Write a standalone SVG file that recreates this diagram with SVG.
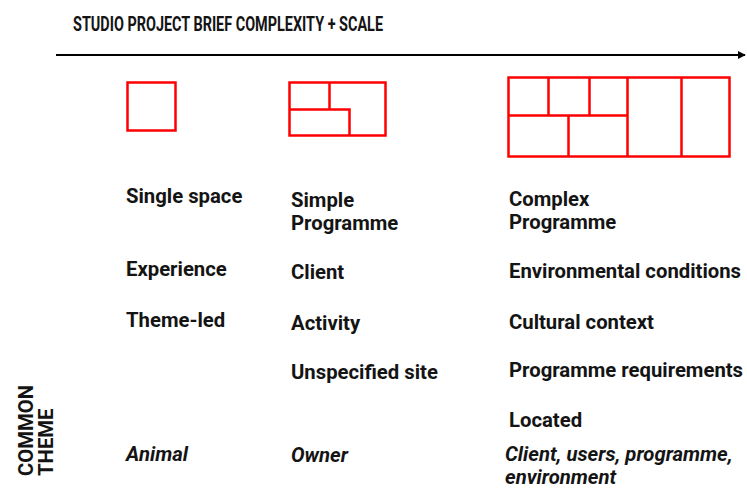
<svg xmlns="http://www.w3.org/2000/svg" width="747" height="488" viewBox="0 0 747 488">
<style>
.t{font-family:Roboto,"Liberation Sans",sans-serif;font-weight:bold;font-size:20.3px;fill:#141414}
.i{font-style:italic}
.b{fill:none;stroke:#ff0000;stroke-width:2.5}
</style>
<defs>
<marker id="ah" viewBox="0 0 10 10" refX="9" refY="5" markerWidth="4" markerHeight="4" orient="auto" markerUnits="strokeWidth">
<path d="M0,0L10,5L0,10z" fill="#000"/>
</marker>
</defs>
<rect width="747" height="488" fill="#fff"/>
<text class="t" x="73" y="31" font-size="22" textLength="310" lengthAdjust="spacingAndGlyphs">STUDIO PROJECT BRIEF COMPLEXITY + SCALE</text>
<g id="connectors">
<line x1="56" y1="55" x2="745" y2="55" stroke="#000" stroke-width="2" marker-end="url(#ah)"/>
</g>
<g id="box-small">
<rect class="b" x="127.5" y="82.5" width="48" height="48"/>
</g>
<g id="box-medium">
<rect class="b" x="289.5" y="82.5" width="96" height="53"/>
<path class="b" d="M329.5,82.5V109.5M289.5,109.5H349.5V135.5"/>
</g>
<g id="box-large">
<rect class="b" x="508.5" y="77.5" width="221" height="79"/>
<path class="b" d="M508.5,115.5H627.5M548.5,77.5V115.5M589.5,77.5V115.5M568.5,115.5V156.5M627.5,77.5V156.5M681.5,77.5V156.5"/>
</g>
<g id="col-1">
<text class="t" x="126" y="203">Single space</text>
<text class="t" x="126" y="276">Experience</text>
<text class="t" x="126" y="327">Theme-led</text>
<text class="t i" x="126" y="461">Animal</text>
</g>
<g id="col-2">
<text class="t" x="291" y="207">Simple</text>
<text class="t" x="291" y="230">Programme</text>
<text class="t" x="291" y="279">Client</text>
<text class="t" x="291" y="330">Activity</text>
<text class="t" x="291" y="379">Unspecified site</text>
<text class="t i" x="291" y="462">Owner</text>
</g>
<g id="col-3">
<text class="t" x="509" y="206">Complex</text>
<text class="t" x="509" y="229">Programme</text>
<text class="t" x="509" y="278">Environmental conditions</text>
<text class="t" x="509" y="329">Cultural context</text>
<text class="t" x="509" y="377">Programme requirements</text>
<text class="t" x="509" y="427">Located</text>
<text class="t i" x="505" y="461">Client, users, programme,</text>
<text class="t i" x="505" y="484">environment</text>
</g>
<g id="common-theme">
<text class="t" font-size="21" transform="translate(33,476) rotate(-90)">COMMON</text>
<text class="t" font-size="21" transform="translate(53,476) rotate(-90)">THEME</text>
</g>
</svg>
